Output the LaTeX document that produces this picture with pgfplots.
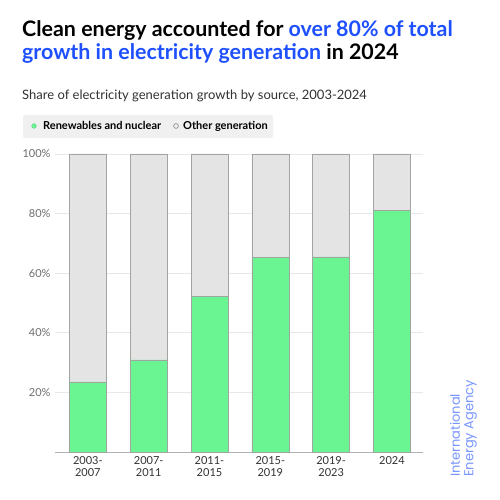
\documentclass[border=0pt]{standalone}
\usepackage{pgfplots}
\pgfplotsset{compat=1.18}
\usepackage{fontspec}
\setmainfont{Lato}
\newfontfamily\logofont{Poppins}
\definecolor{ieablue}{RGB}{30,80,255}
\definecolor{logoblue}{RGB}{120,150,255}
\definecolor{cleangreen}{RGB}{106,245,146}
\definecolor{othergray}{RGB}{228,228,228}
\definecolor{edgegray}{RGB}{160,165,160}
\definecolor{gridgray}{RGB}{232,232,232}
\definecolor{legbg}{RGB}{240,240,240}
\begin{document}
\begin{tikzpicture}[x=1pt,y=1pt]
\path[fill=white] (0,0) rectangle (500,500);
% title
\node[anchor=base west,inner sep=0pt,font=\fontsize{21.4}{23}\selectfont\bfseries] at (22,463)
  {Clean energy accounted for \textcolor{ieablue}{over 80\% of total}};
\node[anchor=base west,inner sep=0pt,font=\fontsize{21.4}{23}\selectfont\bfseries] at (22,440)
  {\textcolor{ieablue}{growth in electricity generation} in 2024};
\node[anchor=base west,inner sep=0pt,font=\fontsize{13}{15}\selectfont,text={rgb,255:red,50;green,50;blue,50}] at (22,400)
  {Share of electricity generation growth by source, 2003-2024};
% legend
\fill[legbg,rounded corners=2pt] (23,362) rectangle (273,385);
\fill[cleangreen!80!black!90] (34,374) circle (2.6);
\fill[cleangreen] (34,374) circle (2.1);
\draw[gray,line width=0.6pt] (176,374) circle (2.4);
\node[anchor=base west,inner sep=0pt,font=\fontsize{11}{13}\selectfont\bfseries] at (43,370) {Renewables and nuclear};
\node[anchor=base west,inner sep=0pt,font=\fontsize{11}{13}\selectfont\bfseries] at (183,370) {Other generation};
% logo
\node[rotate=90,anchor=south west,inner sep=0pt,align=left,font=\fontsize{13}{13.5}\logofont,text=logoblue] at (477,23)
  {International\\Energy Agency};
\begin{axis}[
  at={(55pt,48pt)}, anchor=south west,
  scale only axis, width=368pt, height=298pt,
  ybar stacked, bar width=37pt,
  xmin=-0.54, xmax=5.51, ymin=0, ymax=100,
  xtick={0,1,2,3,4,5},
  xticklabels={{2003-\\2007},{2007-\\2011},{2011-\\2015},{2015-\\2019},{2019-\\2023},{2024}},
  xticklabel style={align=center,font=\fontsize{11}{11.5}\selectfont,text={rgb,255:red,50;green,50;blue,50},yshift=-1pt},
  ytick={20,40,60,80,100},
  yticklabel={\pgfmathprintnumber{\tick}\%},
  yticklabel style={font=\fontsize{11}{12}\selectfont,text={rgb,255:red,110;green,110;blue,110},xshift=-1pt},
  /pgf/number format/assume math mode=true,
  major tick length=0pt,
  ymajorgrids, grid style={gridgray,line width=0.8pt},
  axis y line*=left,
  y axis line style={draw=none},
  axis x line*=bottom,
  x axis line style={black!30,line width=0.8pt,-},
  clip=false,
]
\addplot[fill=cleangreen,draw=edgegray,line width=0.6pt] coordinates {(0,23.5) (1,30.9) (2,52.3) (3,65.4) (4,65.5) (5,81.1)};
\addplot[fill=othergray,draw=edgegray,line width=0.6pt] coordinates {(0,76.5) (1,69.1) (2,47.7) (3,34.6) (4,34.5) (5,18.9)};
\end{axis}
\end{tikzpicture}
\end{document}
